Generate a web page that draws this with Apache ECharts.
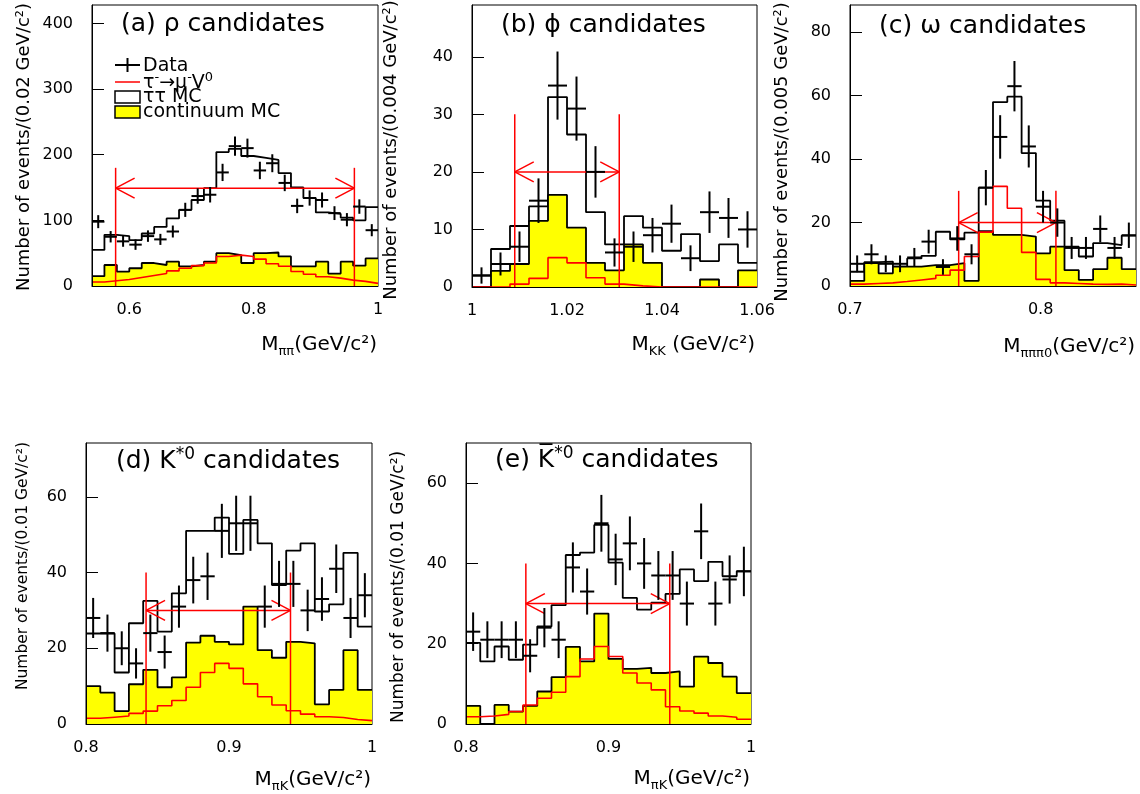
<!DOCTYPE html>
<html><head><meta charset="utf-8">
<script src="https://cdn.jsdelivr.net/npm/echarts@6/dist/echarts.min.js"></script>
<style>html,body{margin:0;padding:0;background:#fff}#c{width:1140px;height:794px}</style>
</head><body><div id="c"></div>
<script>
// ---------------- DATA ----------------
// (a) rho candidates : 23 bins of 0.02 from 0.54
const binLoA = 0.54, binWA = 0.02;
const ttA   = [55, 78, 76, 70, 80, 90, 103, 116, 131, 149, 204, 209, 198, 195, 192, 172, 150, 134, 112, 110, 104, 100, 120];
const contA = [15, 32, 22, 27, 35, 32, 37, 30, 32, 37, 50, 47, 35, 50, 51, 45, 30, 30, 37, 19, 37, 31, 42];
const sigA  = [6, 8, 10, 13, 16, 19, 23, 27, 31, 35, 45, 47, 45, 41, 34, 30, 22, 18, 14, 12, 9, 7, 4];
const dataA = [98, 75, 68, 63, 76, 71, 83, 116, 137, 139, 173, 213, 210, 176, 187, 157, 122, 134, 131, 111, 101, 121, 85];
const winA  = [0.578, 0.962, 180, 149];   // window low, high, line top, arrow level

// (b) phi candidates : 15 bins of 0.004 from 1.0
const binLoB = 1.0, binWB = 0.004;
const ttB   = [2, 6.6, 10.6, 14, 33, 26.5, 13, 7.4, 12.3, 10.3, 6.3, 9.2, 4.5, 7.4, 4.2];
const contB = [0, 2.8, 4, 11.5, 16, 10.3, 4.2, 2.9, 7.4, 4.2, 0, 0, 1.3, 0, 2.9];
const sigB  = [0, 0, 0.5, 1.5, 5.1, 4.2, 1.6, 0.5, 0.2, 0, 0, 0, 0, 0, 0];
const dataB = [2, 4, 7, 15, 35, 31, 20, 6, 7, 9, 11, 5, 13, 12, 10];
const winB  = [1.009, 1.031, 30, 20];

// (c) omega candidates : 20 bins of 0.0075 from 0.70
const binLoC = 0.70, binWC = 0.0075;
const ttC   = [4.5, 7.5, 7.7, 6.1, 8.7, 9.5, 17.1, 14.7, 16.8, 31, 58, 59.7, 41.9, 26.9, 20.6, 12.4, 9.3, 13.5, 12.9, 15.9];
const contC = [1.6, 7.2, 4, 6.1, 6.1, 6.6, 6.6, 7.2, 1.6, 17.3, 16.1, 16.1, 15.6, 10.3, 12.4, 5, 1.9, 5.3, 8.9, 5.3];
const sigC  = [0.6, 0.8, 1, 1.4, 1.9, 2.4, 3.4, 5, 9.3, 17, 31.4, 24.5, 10.6, 2.1, 1, 0.8, 0.6, 0.5, 0.6, 0.3];
const dataC = [7, 10, 7, 7, 9, 14, 6, 15, 10, 31, 47, 63, 44, 25, 20, 12, 12, 18, 12, 16];
const winC  = [0.757, 0.808, 30, 20];

// (d) K*0 candidates : 20 bins of 0.01 from 0.8
const binLoD = 0.8, binWD = 0.01;
const ttD   = [23.9, 23.9, 13.6, 26.6, 32.5, 24.4, 34.5, 51, 51, 54.5, 44.9, 53.9, 47.7, 36.7, 45.8, 47.7, 29.7, 31.6, 45.2, 25.7];
const contD = [10, 8.3, 3.4, 10.5, 14.3, 9.7, 12.3, 21.5, 23.3, 21.7, 21, 31, 19.5, 17.5, 21.7, 21.3, 5.2, 9, 19.5, 9];
const sigD  = [1.5, 1.8, 2.1, 2.8, 3.4, 4.8, 6.2, 9.7, 13.6, 16, 14.7, 10.6, 7.2, 5, 3.5, 2.6, 1.9, 1.7, 1.2, 0.9];
const dataD = [28, 24, 20, 16, 24, 19, 31, 38, 39, 51, 53, 53, 31, 37, 37, 30, 33, 41, 28, 34];
const winD  = [0.842, 0.943, 40, 30];

// (e) anti-K*0 candidates : 20 bins of 0.01 from 0.8
const binLoE = 0.8, binWE = 0.01;
const ttE   = [20.2, 15.6, 19.3, 16, 19.75, 24.3, 29.6, 42.1, 42.7, 49.6, 40.2, 31.4, 28.5, 30.2, 32.4, 38.5, 35.6, 40.4, 36.8, 38.1];
const contE = [4.5, 0, 4.75, 3.1, 4.5, 8.1, 11.7, 19.2, 15.6, 27.5, 16.2, 13.75, 14, 12.7, 13.1, 9.3, 16.8, 15.2, 11.8, 7.7];
const sigE  = [1.8, 2, 2.4, 3.1, 4.75, 6.4, 7.9, 11.8, 16.2, 19.3, 16.8, 12.7, 10.2, 8.5, 4.3, 3.25, 2.7, 2, 1.7, 1.2];
const dataE = [23, 21, 21, 21, 17, 24, 21, 39, 33, 50, 41, 45, 40, 37, 37, 30, 48, 30, 36, 38];
const winE  = [0.842, 0.943, 40, 30];

// tick labels
const xTicksA = [0.6, 0.8, 1.0],  yTicksA = [0, 100, 200, 300, 400];
const xTicksB = [1.0, 1.02, 1.04, 1.06], yTicksB = [0, 10, 20, 30, 40];
const xTicksC = [0.7, 0.8],       yTicksC = [0, 20, 40, 60, 80];
const xTicksD = [0.8, 0.9, 1.0],  yTicksD = [0, 20, 40, 60];
const xTicksE = [0.8, 0.9, 1.0],  yTicksE = [0, 20, 40, 60];

// ---------------- BUILD ----------------
const FONT = 'DejaVu Sans';
const panels = [
  {grid:{left:92, top:5, width:286, height:281}, xMin:0.54, xMax:1.0, yMax:428, xT:xTicksA, yT:yTicksA, lo:binLoA, w:binWA, tt:ttA, cont:contA, sig:sigA, data:dataA, win:winA},
  {grid:{left:472, top:5, width:285, height:282}, xMin:1.0, xMax:1.06, yMax:49, xT:xTicksB, yT:yTicksB, lo:binLoB, w:binWB, tt:ttB, cont:contB, sig:sigB, data:dataB, win:winB},
  {grid:{left:850, top:5, width:286, height:281}, xMin:0.70, xMax:0.85, yMax:88.6, xT:xTicksC, yT:yTicksC, lo:binLoC, w:binWC, tt:ttC, cont:contC, sig:sigC, data:dataC, win:winC},
  {grid:{left:86, top:443, width:286, height:281}, xMin:0.8, xMax:1.0, yMax:74.2, xT:xTicksD, yT:yTicksD, lo:binLoD, w:binWD, tt:ttD, cont:contD, sig:sigD, data:dataD, win:winD},
  {grid:{left:466, top:443, width:285, height:281}, xMin:0.8, xMax:1.0, yMax:70, xT:xTicksE, yT:yTicksE, lo:binLoE, w:binWE, tt:ttE, cont:contE, sig:sigE, data:dataE, win:winE}
];

function stepPts(lo, w, vals) {
  const pts = [];
  vals.forEach((v, i) => { pts.push([lo + i * w, v]); pts.push([lo + (i + 1) * w, v]); });
  return pts;
}
function crossData(lo, w, vals) { return vals.map((v, i) => [lo + i * w, lo + (i + 1) * w, v]); }

function renderCross(params, api) {
  const lo = api.value(0), hi = api.value(1), v = api.value(2), e = Math.sqrt(v);
  const l = api.coord([lo, v]), r = api.coord([hi, v]);
  const t = api.coord([(lo + hi) / 2, v + e]), b = api.coord([(lo + hi) / 2, Math.max(0, v - e)]);
  const st = {stroke: '#000', lineWidth: 2};
  return {type: 'group', children: [
    {type: 'line', shape: {x1: l[0], y1: l[1], x2: r[0], y2: r[1]}, style: st},
    {type: 'line', shape: {x1: t[0], y1: t[1], x2: b[0], y2: b[1]}, style: st}
  ]};
}
function renderWin(params, api) {
  const lo = api.value(0), hi = api.value(1), top = api.value(2), ay = api.value(3);
  const p0 = api.coord([lo, 0]), p1 = api.coord([lo, top]);
  const q0 = api.coord([hi, 0]), q1 = api.coord([hi, top]);
  const a0 = api.coord([lo, ay]), a1 = api.coord([hi, ay]);
  const st = {stroke: '#ff0000', lineWidth: 1.5};
  const L = (x1, y1, x2, y2) => ({type: 'line', shape: {x1, y1, x2, y2}, style: st});
  const dx = 19, dy = 10;
  return {type: 'group', children: [
    L(p0[0], p0[1], p1[0], p1[1]), L(q0[0], q0[1], q1[0], q1[1]),
    L(a0[0], a0[1], a1[0], a1[1]),
    L(a0[0], a0[1], a0[0] + dx, a0[1] - dy), L(a0[0], a0[1], a0[0] + dx, a0[1] + dy),
    L(a1[0], a1[1], a1[0] - dx, a1[1] - dy), L(a1[0], a1[1], a1[0] - dx, a1[1] + dy)
  ]};
}

const fmt = v => String(parseFloat(Number(v).toFixed(3)));
const grids = [], xAxes = [], yAxes = [], series = [];
panels.forEach((p, i) => {
  grids.push(Object.assign({show: true, borderColor: '#000', borderWidth: 1, backgroundColor: 'transparent'}, p.grid));
  xAxes.push({gridIndex: i, type: 'value', min: p.xMin, max: p.xMax, z: 10,
    axisLine: {show: true, onZero: false, lineStyle: {color: '#000', width: 1}},
    axisTick: {show: false}, splitLine: {show: false},
    axisLabel: {customValues: p.xT, formatter: fmt, fontSize: 16, fontFamily: FONT, color: '#000', margin: 16}});
  yAxes.push({gridIndex: i, type: 'value', min: 0, max: p.yMax, z: 10,
    axisLine: {show: true, lineStyle: {color: '#000', width: 1}},
    axisTick: {show: true, inside: true, length: 12, customValues: p.yT, lineStyle: {color: '#000', width: 1}},
    splitLine: {show: false},
    axisLabel: {customValues: p.yT, fontSize: 16, fontFamily: FONT, color: '#000', margin: 19}});
  series.push({type: 'line', xAxisIndex: i, yAxisIndex: i, data: stepPts(p.lo, p.w, p.tt), symbol: 'none', z: 2,
    lineStyle: {color: '#000', width: 1.8}});
  series.push({type: 'line', xAxisIndex: i, yAxisIndex: i, data: stepPts(p.lo, p.w, p.cont), symbol: 'none', z: 3,
    lineStyle: {color: '#000', width: 1.8}, areaStyle: {color: '#ffff00', opacity: 1, origin: 'start'}});
  series.push({type: 'line', xAxisIndex: i, yAxisIndex: i, data: stepPts(p.lo, p.w, p.sig), symbol: 'none', z: 4,
    lineStyle: {color: '#ff0000', width: 1.6}});
  series.push({type: 'custom', xAxisIndex: i, yAxisIndex: i, data: [p.win], encode: {x: [0, 1], y: [2, 3]}, z: 5, renderItem: renderWin});
  series.push({type: 'custom', xAxisIndex: i, yAxisIndex: i, data: crossData(p.lo, p.w, p.data), encode: {x: [0, 1], y: 2}, z: 6, renderItem: renderCross});
});

// ---------- texts ----------
const T = (x, y, text, size, extra) => Object.assign({type: 'text', x, y, z: 100,
  style: Object.assign({text, fontSize: size, fontFamily: FONT, fill: '#000', align: 'left', verticalAlign: 'middle'}, extra || {})});
const titleRich = {t: {fontSize: 25, fontFamily: FONT, lineHeight: 30, verticalAlign: 'middle'},
                   sp: {fontSize: 17, fontFamily: FONT, lineHeight: 16, verticalAlign: 'top'}};
const xNameRich = {m: {fontSize: 20, fontFamily: FONT, lineHeight: 26, verticalAlign: 'middle'},
                   s: {fontSize: 13, fontFamily: FONT, lineHeight: 14, verticalAlign: 'bottom'}};
const legRich = {m: {fontSize: 19, fontFamily: FONT, lineHeight: 24, verticalAlign: 'middle'},
                 p: {fontSize: 13, fontFamily: FONT, lineHeight: 13, verticalAlign: 'top'}};

const graphics = [
  // titles
  T(121, 24, '(a) ρ candidates', 25),
  T(501, 25, '(b) ϕ candidates', 25),
  T(879, 26, '(c) ω candidates', 25),
  T(116, 461, '{t|(d) K}{sp|*0}{t| candidates}', 25, {rich: titleRich}),
  T(495, 460, '{t|(e) K\u0305}{sp|*0}{t| candidates}', 25, {rich: titleRich}),
  // x axis names
  T(377, 345, '{m|M}{s|ππ}{m|(GeV/c²)}', 20, {rich: xNameRich, align: 'right'}),
  T(755, 345, '{m|M}{s|KK}{m| (GeV/c²)}', 20, {rich: xNameRich, align: 'right'}),
  T(1135, 347, '{m|M}{s|πππ0}{m|(GeV/c²)}', 20, {rich: xNameRich, align: 'right'}),
  T(371, 780, '{m|M}{s|πK}{m|(GeV/c²)}', 20, {rich: xNameRich, align: 'right'}),
  T(750, 779, '{m|M}{s|πK}{m|(GeV/c²)}', 20, {rich: xNameRich, align: 'right'}),
  // y axis names
  Object.assign(T(24, 147, 'Number of events/(0.02 GeV/c²)', 18, {align: 'center'}), {rotation: Math.PI / 2}),
  Object.assign(T(391, 150, 'Number of events/(0.004 GeV/c²)', 18, {align: 'center'}), {rotation: Math.PI / 2}),
  Object.assign(T(782, 152, 'Number of events/(0.005 GeV/c²)', 18, {align: 'center'}), {rotation: Math.PI / 2}),
  Object.assign(T(23, 566, 'Number of events/(0.01 GeV/c²)', 15.5, {align: 'center'}), {rotation: Math.PI / 2}),
  Object.assign(T(399, 587, 'Number of events/(0.01 GeV/c²)', 17, {align: 'center'}), {rotation: Math.PI / 2}),
  // legend
  {type: 'line', z: 100, shape: {x1: 115, y1: 65, x2: 140, y2: 65}, style: {stroke: '#000', lineWidth: 2}},
  {type: 'line', z: 100, shape: {x1: 127.5, y1: 58, x2: 127.5, y2: 72}, style: {stroke: '#000', lineWidth: 2}},
  T(143, 66, 'Data', 19),
  {type: 'line', z: 100, shape: {x1: 115, y1: 82, x2: 140, y2: 82}, style: {stroke: '#ff0000', lineWidth: 1.5}},
  T(143, 83, '{m|τ}{p|-}{m|→μ}{p|-}{m|V}{p|0}', 19, {rich: legRich}),
  {type: 'rect', z: 100, shape: {x: 115, y: 91, width: 25, height: 12}, style: {fill: '#fff', stroke: '#000', lineWidth: 1.5}},
  T(143, 97, 'ττ MC', 19),
  {type: 'rect', z: 100, shape: {x: 115, y: 106, width: 25, height: 12}, style: {fill: '#ffff00', stroke: '#000', lineWidth: 1.5}},
  T(143, 112, 'continuum MC', 19)
];

const chart = echarts.init(document.getElementById('c'), null, {renderer: 'canvas'});
chart.setOption({
  animation: false,
  backgroundColor: '#fff',
  grid: grids, xAxis: xAxes, yAxis: yAxes, series: series,
  graphic: {elements: graphics}
});
</script></body></html>
